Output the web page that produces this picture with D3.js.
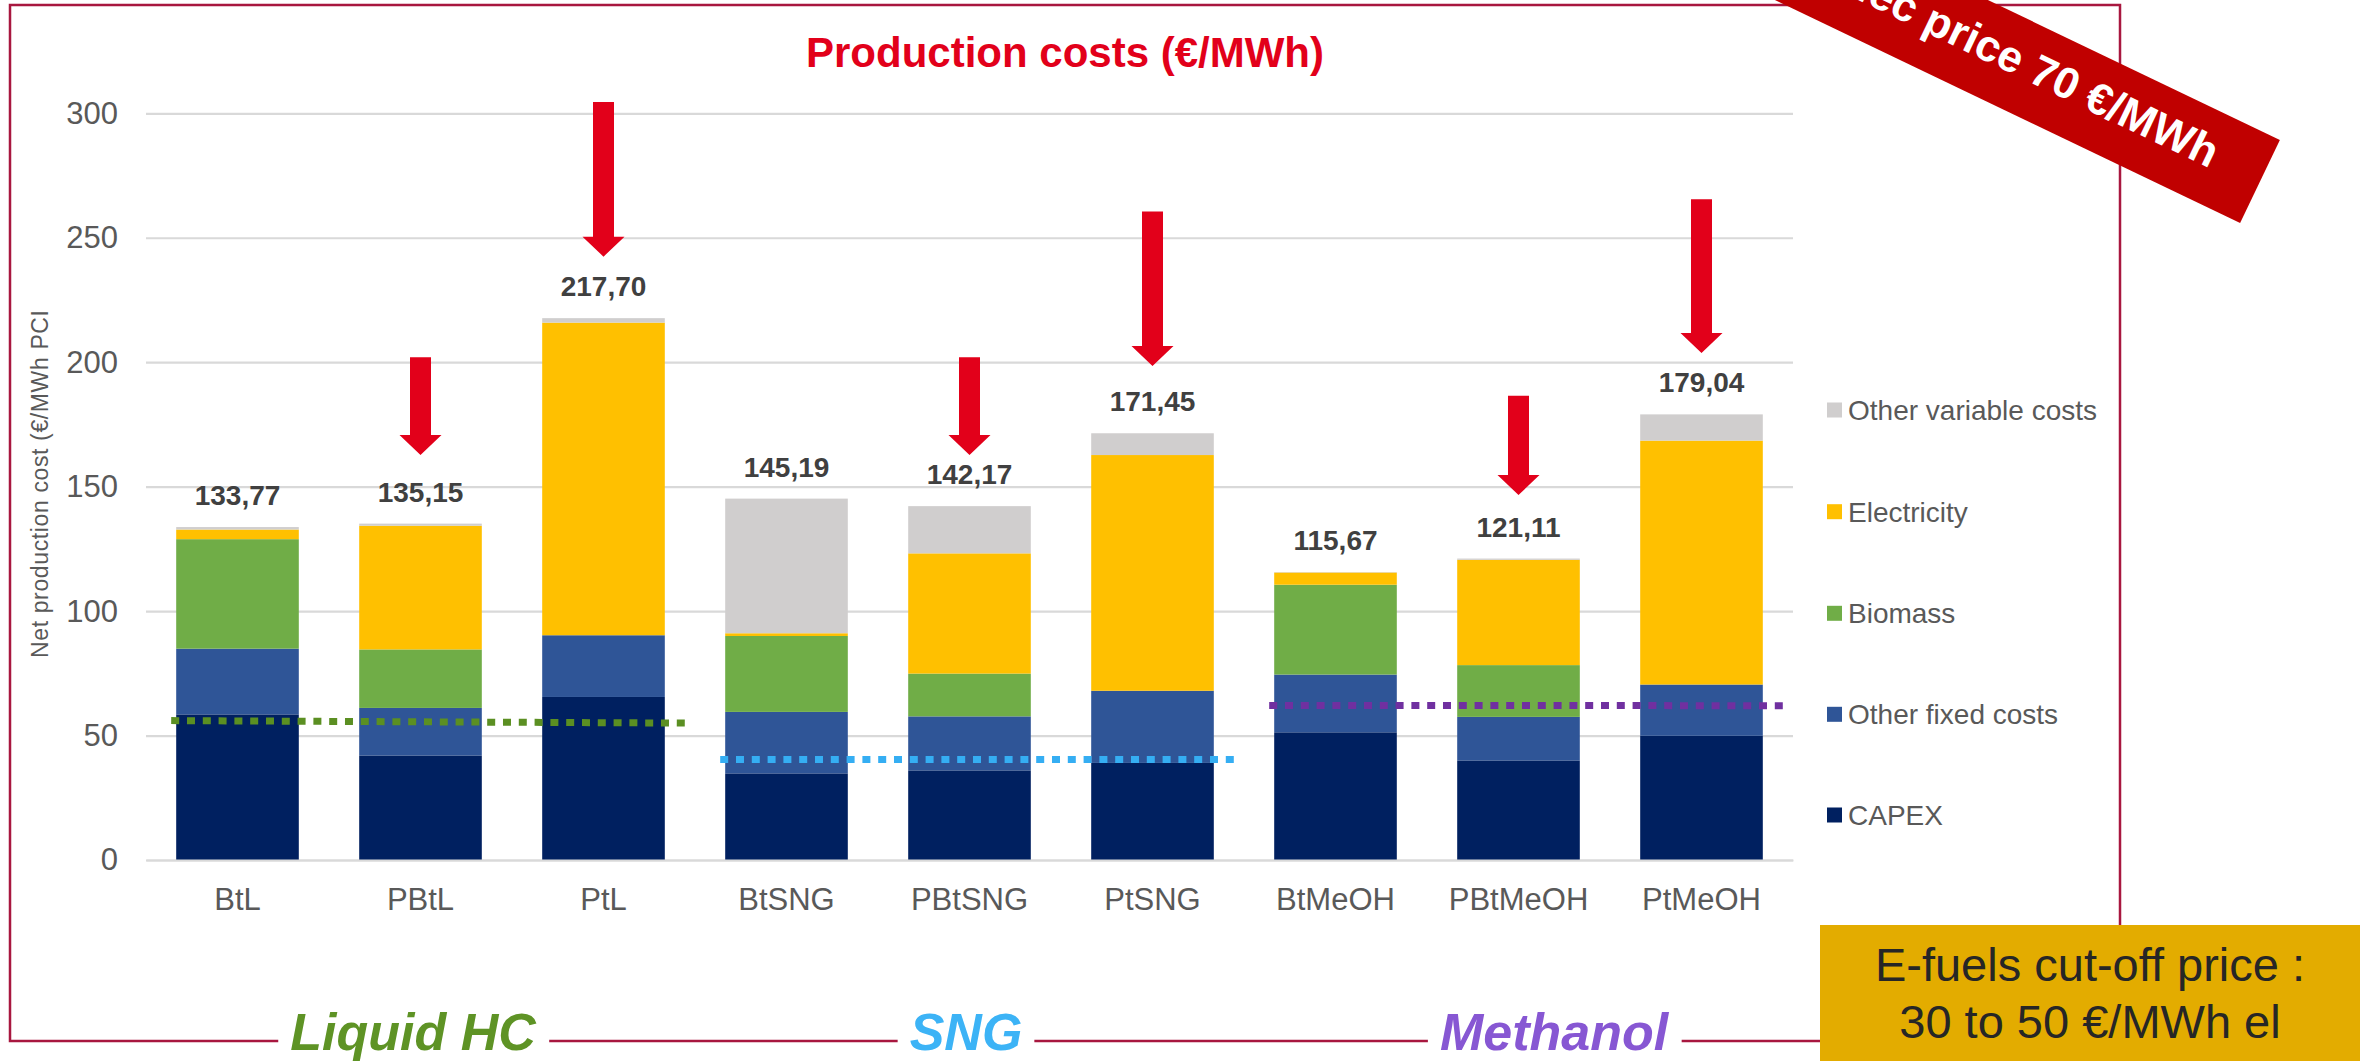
<!DOCTYPE html>
<html><head><meta charset="utf-8">
<script src="https://cdn.jsdelivr.net/npm/d3@7"></script>
<style>
body{margin:0;background:#fff;}
svg{display:block;font-family:"Liberation Sans",Arial,Helvetica,sans-serif;}
</style>
</head><body>
<svg id="c" width="2371" height="1061"></svg>
<script>
// ---------------- DATA ----------------
const categories = ["BtL","PBtL","PtL","BtSNG","PBtSNG","PtSNG","BtMeOH","PBtMeOH","PtMeOH"];
const seriesNames = ["CAPEX","Other fixed costs","Biomass","Electricity","Other variable costs"];
const capex         = [58.5, 42.0, 65.5, 34.8, 36.0, 39.0, 51.3, 40.0, 49.9];
const otherFixed    = [26.4, 19.1, 24.8, 24.7, 21.7, 29.0, 23.2, 17.5, 20.6];
const biomass       = [44.0, 23.5,  0.0, 30.5, 17.2,  0.0, 36.1, 20.8,  0.0];
const electricity   = [3.87, 49.7,125.6,  1.1, 48.3, 94.7,  4.9, 42.3, 98.0];
const otherVariable = [1.0, 0.85,  1.8,54.09,18.97, 8.75, 0.17, 0.51,10.54];
const yTicks = [0, 50, 100, 150, 200, 250, 300];

// red arrows (cost with cheaper electricity), in €/MWh units
const arrowCats = ["PBtL","PtL","PBtSNG","PtSNG","PBtMeOH","PtMeOH"];
const arrowFrom = [202.0, 304.5, 202.0, 260.5, 186.5, 265.5];
const arrowTo   = [162.7, 242.4, 162.7, 198.5, 146.6, 203.7];

// fuel families and their reference level (dotted lines)
const groupNames      = ["Liquid HC","SNG","Methanol"];
const groupFirst      = ["BtL","BtSNG","BtMeOH"];
const groupLast       = ["PtL","PtSNG","PtMeOH"];
const groupLevelStart = [56.0, 40.4, 62.1];
const groupLevelEnd   = [55.0, 40.4, 62.0];

const bannerText = "Elec price 70 €/MWh";
const boxLines = ["E-fuels cut-off price :", "30 to 50 €/MWh el"];

// ---------------- STYLE ----------------
const seriesColors = ["#002060","#2f5597","#70ad47","#ffc000","#d0cece"];
const groupColors = ["#5b8f22","#35aef3","#7030a0"];
const groupLabelColors = ["#5e9325","#3cb3f6","#8757d3"];

const svg = d3.select("#c");
svg.append("rect").attr("width",2371).attr("height",1061).attr("fill","#fff");

const x = d3.scaleBand().domain(categories).range([146,1793]).paddingInner(0.33).paddingOuter(0.165);
const y = d3.scaleLinear().domain([0,300]).range([860,113.3]);
const bw = x.bandwidth();

// frame
const frameColor = "#a8173f";
svg.append("rect").attr("x",10).attr("y",5).attr("width",2110).attr("height",1036)
  .attr("fill","none").attr("stroke",frameColor).attr("stroke-width",2.5);

// title
svg.append("text").attr("x",1065).attr("y",67).attr("text-anchor","middle")
  .attr("font-size",42).attr("font-weight","bold").attr("fill","#e2001a")
  .text("Production costs (€/MWh)");

// gridlines
svg.append("g").attr("transform","translate(146,0)")
  .call(d3.axisLeft(y).tickValues(yTicks).tickSize(-(1793-146)).tickFormat(""))
  .call(g=>g.select(".domain").remove())
  .call(g=>g.selectAll("line").attr("stroke","#d9d9d9").attr("stroke-width",2.2));

// y axis labels
svg.append("g").attr("transform","translate(146,0)")
  .call(d3.axisLeft(y).tickValues(yTicks).tickSize(0).tickPadding(28))
  .call(g=>g.select(".domain").remove())
  .call(g=>g.selectAll("text").attr("font-size",31).attr("fill","#595959")
     .attr("font-family","Liberation Sans, Arial, sans-serif"));

// y axis title
svg.append("text").attr("transform","translate(47.5,484) rotate(-90)")
  .attr("text-anchor","middle").attr("font-size",23).attr("fill","#595959")
  .attr("textLength",348).attr("lengthAdjust","spacing")
  .text("Net production cost (€/MWh PCI");

// stacked bars
const rows = categories.map((c,i)=>({cat:c,
  "CAPEX":capex[i],"Other fixed costs":otherFixed[i],"Biomass":biomass[i],
  "Electricity":electricity[i],"Other variable costs":otherVariable[i]}));
const stacked = d3.stack().keys(seriesNames)(rows);
const color = d3.scaleOrdinal().domain(seriesNames).range(seriesColors);

svg.append("g").selectAll("g").data(stacked).join("g")
  .attr("fill",d=>color(d.key))
  .selectAll("rect").data(d=>d).join("rect")
  .attr("x",d=>x(d.data.cat)).attr("width",bw)
  .attr("y",d=>y(d[1])).attr("height",d=>Math.max(0,y(d[0])-y(d[1])));

// x axis
svg.append("g").attr("transform","translate(0,860)")
  .call(d3.axisBottom(x).tickSize(0).tickPadding(28))
  .call(g=>g.select(".domain").attr("stroke","#d9d9d9").attr("stroke-width",2.2))
  .call(g=>g.selectAll("text").attr("font-size",31).attr("fill","#595959")
     .attr("font-family","Liberation Sans, Arial, sans-serif"));

// totals
const locale = d3.formatLocale({decimal:",",thousands:" ",grouping:[3],currency:["","€"]});
const fmt = locale.format(".2f");
svg.append("g").selectAll("text").data(rows).join("text")
  .attr("x",d=>x(d.cat)+bw/2)
  .attr("y",d=>y(seriesNames.reduce((s,k)=>s+d[k],0))-22)
  .attr("text-anchor","middle").attr("font-size",28).attr("font-weight","bold").attr("fill","#404040")
  .text(d=>fmt(seriesNames.reduce((s,k)=>s+d[k],0)));

// dotted reference lines
groupNames.forEach((g,i)=>{
  svg.append("line")
    .attr("x1",x(groupFirst[i])-5).attr("x2",x(groupLast[i])+bw+22)
    .attr("y1",y(groupLevelStart[i])).attr("y2",y(groupLevelEnd[i]))
    .attr("stroke",groupColors[i]).attr("stroke-width",7).attr("stroke-dasharray","8 7.8");
});

// arrows
const arrowG = svg.append("g").attr("fill","#e2001a");
arrowCats.forEach((c,i)=>{
  const cx = x(c)+bw/2, top = y(arrowFrom[i]), tip = y(arrowTo[i]);
  const sw = 10.5, hw = 21, hh = 20;
  arrowG.append("path").attr("d",
    `M${cx-sw},${top}L${cx+sw},${top}L${cx+sw},${tip-hh}L${cx+hw},${tip-hh}L${cx},${tip}L${cx-hw},${tip-hh}L${cx-sw},${tip-hh}Z`);
});

// legend
const legendY = [815, 714.3, 613.3, 511.7, 410];
const leg = svg.append("g");
seriesNames.forEach((s,i)=>{
  leg.append("rect").attr("x",1827).attr("y",legendY[i]-7.5).attr("width",15).attr("height",15).attr("fill",seriesColors[i]);
  leg.append("text").attr("x",1848).attr("y",legendY[i]).attr("dy","0.36em")
    .attr("font-size",28).attr("fill","#595959").text(s);
});

// group labels on bottom frame line
const groupLabelX = [413, 966, 1554];
groupNames.forEach((g,i)=>{
  const t = svg.append("text").attr("x",groupLabelX[i]).attr("y",1050).attr("text-anchor","middle")
    .attr("font-size",52).attr("font-weight","bold").attr("font-style","italic")
    .attr("fill",groupLabelColors[i]).text(g);
  const bb = t.node().getBBox();
  svg.insert("rect", function(){return t.node();})
    .attr("x",bb.x-12).attr("y",1030).attr("width",bb.width+24).attr("height",20).attr("fill","#fff");
});

// banner
const ban = svg.append("g").attr("transform","translate(2260,181.4) rotate(25.6)");
ban.append("rect").attr("x",-900).attr("y",-46).attr("width",900).attr("height",92).attr("fill","#c00000");
ban.append("text").attr("x",-51).attr("y",10).attr("text-anchor","end")
  .attr("font-size",44).attr("font-weight","bold").attr("fill","#fff").text(bannerText);

// cut-off price box
svg.append("rect").attr("x",1820).attr("y",925).attr("width",540).attr("height",140).attr("fill","#e3ac00");
boxLines.forEach((l,i)=>{
  svg.append("text").attr("x",2090).attr("y",981+57*i).attr("text-anchor","middle")
    .attr("font-size",47).attr("fill","#262626").text(l);
});
</script>
</body></html>
